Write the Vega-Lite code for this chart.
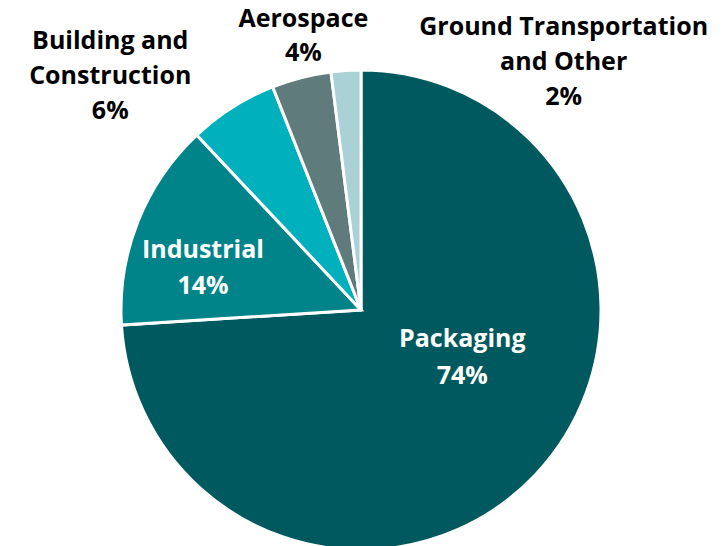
{
  "$schema": "https://vega.github.io/schema/vega-lite/v6.json",
  "width": 722,
  "height": 472,
  "padding": {"left": 0, "top": 74, "right": 6, "bottom": 0},
  "autosize": {"type": "none"},
  "background": "white",
  "config": {"view": {"stroke": null}},
  "data": {
    "values": [
      {"category": "Packaging", "value": 74, "label": "Packaging\n74%"},
      {"category": "Industrial", "value": 14, "label": "Industrial\n14%"},
      {"category": "Building and Construction", "value": 6, "label": "Building and\nConstruction\n6%"},
      {"category": "Aerospace", "value": 4, "label": "Aerospace\n4%"},
      {"category": "Ground Transportation and Other", "value": 2, "label": "Ground Transportation\nand Other\n2%"}
    ]
  },
  "transform": [
    {"stack": "value", "groupby": [], "as": ["v0", "v1"]},
    {"calculate": "(datum.v0 + datum.v1) / 2", "as": "mid"}
  ],
  "layer": [
    {
      "mark": {"type": "arc", "outerRadius": 240, "stroke": "white", "strokeWidth": 3},
      "encoding": {
        "theta": {"field": "v0", "type": "quantitative", "scale": {"domain": [0, 100]}, "stack": null},
        "theta2": {"field": "v1"},
        "color": {
          "field": "category",
          "type": "nominal",
          "legend": null,
          "scale": {
            "domain": ["Packaging", "Industrial", "Building and Construction", "Aerospace", "Ground Transportation and Other"],
            "range": ["#00595E", "#00848A", "#00B0BC", "#607B7B", "#A9D1D6"]
          }
        }
      }
    },
    {
      "transform": [{"filter": "datum.category == 'Packaging'"}],
      "mark": {"type": "text", "radius": 139, "dy": -66, "font": "Open Sans", "fontWeight": "bold", "fontSize": 25, "lineBreak": "\n", "lineHeight": 37, "align": "center", "baseline": "middle", "color": "white"},
      "encoding": {
        "theta": {"field": "mid", "type": "quantitative", "stack": null},
        "text": {"field": "label"}
      }
    },
    {
      "transform": [{"filter": "datum.category == 'Industrial'"}],
      "mark": {"type": "text", "radius": 170, "dy": 3, "font": "Open Sans", "fontWeight": "bold", "fontSize": 25, "lineBreak": "\n", "lineHeight": 36, "align": "center", "baseline": "middle", "color": "white"},
      "encoding": {
        "theta": {"field": "mid", "type": "quantitative", "stack": null},
        "text": {"field": "label"}
      }
    },
    {
      "transform": [{"filter": "datum.category == 'Building and Construction'"}],
      "mark": {"type": "text", "radius": 300, "dx": -90, "dy": -16, "font": "Open Sans", "fontWeight": "bold", "fontSize": 25, "lineBreak": "\n", "lineHeight": 35, "align": "center", "baseline": "middle", "color": "black"},
      "encoding": {
        "theta": {"field": "mid", "type": "quantitative", "stack": null},
        "text": {"field": "label"}
      }
    },
    {
      "transform": [{"filter": "datum.category == 'Aerospace'"}],
      "mark": {"type": "text", "radius": 280, "dx": 12, "dy": -20, "font": "Open Sans", "fontWeight": "bold", "fontSize": 25, "lineBreak": "\n", "lineHeight": 34, "align": "center", "baseline": "middle", "color": "black"},
      "encoding": {
        "theta": {"field": "mid", "type": "quantitative", "stack": null},
        "text": {"field": "label"}
      }
    },
    {
      "transform": [{"filter": "datum.category == 'Ground Transportation and Other'"}],
      "mark": {"type": "text", "radius": 260, "dx": 219, "dy": -24, "font": "Open Sans", "fontWeight": "bold", "fontSize": 25, "lineBreak": "\n", "lineHeight": 35, "align": "center", "baseline": "middle", "color": "black"},
      "encoding": {
        "theta": {"field": "mid", "type": "quantitative", "stack": null},
        "text": {"field": "label"}
      }
    }
  ]
}
